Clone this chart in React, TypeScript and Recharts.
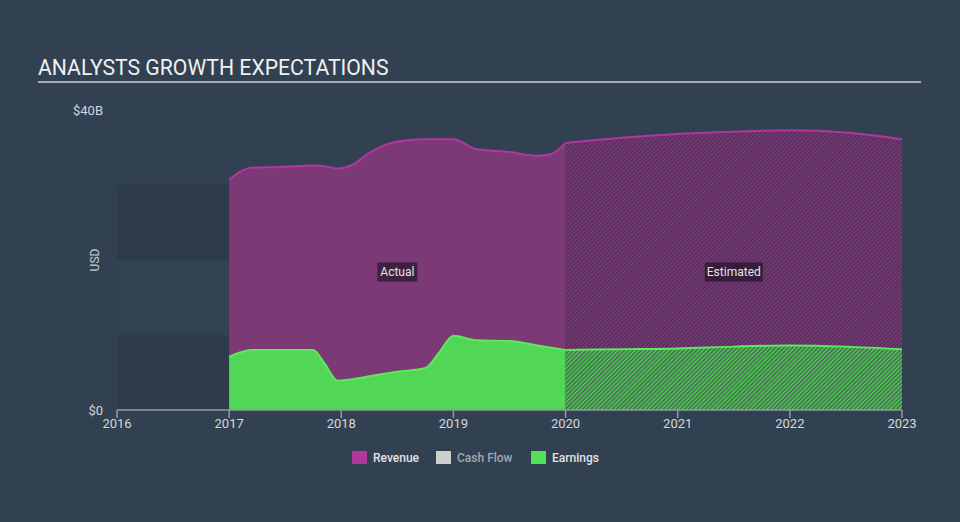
import React from 'react';
import { ComposedChart, Area, XAxis, YAxis, ReferenceArea, ReferenceDot } from 'recharts';

const actualDates = [2017.0, 2017.2, 2017.45, 2017.75, 2017.85, 2017.97, 2018.1, 2018.25, 2018.5, 2018.75, 2018.87, 2019.0, 2019.2, 2019.5, 2019.75, 2019.87, 2020.0];
const revenueActual = [30.7, 32.3, 32.4, 32.6, 32.5, 32.2, 32.7, 34.3, 35.8, 36.1, 36.1, 36.1, 34.8, 34.4, 33.9, 34.1, 35.6];
const earningsActual = [7.1, 8.0, 8.0, 8.0, 6.2, 3.9, 4.1, 4.5, 5.1, 5.6, 7.6, 9.9, 9.3, 9.2, 8.6, 8.3, 8.0];

const estimateDates = [2020.0, 2020.5, 2021.0, 2021.5, 2022.0, 2022.5, 2023.0];
const revenueEstimate = [35.6, 36.3, 36.8, 37.1, 37.3, 37.0, 36.1];
const earningsEstimate = [8.0, 8.1, 8.2, 8.45, 8.6, 8.45, 8.1];

const yearTicks = [2016, 2017, 2018, 2019, 2020, 2021, 2022, 2023];
const valueTicks = [0, 40];
const noDataBands = [
  { from: 0, to: 10, fill: '#2e3b4a' },
  { from: 10, to: 20, fill: '#324253' },
  { from: 20, to: 30, fill: '#2e3b4a' },
];

type Row = { x: number; revA?: number; earnA?: number; revE?: number; earnE?: number };

const buildRows = (): Row[] => {
  const map = new Map<number, Row>();
  actualDates.forEach((d, i) => {
    const r = map.get(d) || { x: d };
    r.revA = revenueActual[i];
    r.earnA = earningsActual[i];
    map.set(d, r);
  });
  estimateDates.forEach((d, i) => {
    const r = map.get(d) || { x: d };
    r.revE = revenueEstimate[i];
    r.earnE = earningsEstimate[i];
    map.set(d, r);
  });
  return Array.from(map.values()).sort((a, b) => a.x - b.x);
};

const rows = buildRows();

const BG = '#324152';
const FONT = 'Roboto, "Noto Sans", sans-serif';

const makeLabel = (text: string, w: number) => (props: any) => {
  const { cx, cy } = props;
  return (
    <g>
      <rect x={cx - w / 2} y={cy - 9.5} width={w} height={19} fill="rgba(22,18,30,0.62)" />
      <text x={cx} y={cy} textAnchor="middle" dominantBaseline="central" fill="#e4e4e8" fontSize={12} fontFamily={FONT}>
        {text}
      </text>
    </g>
  );
};

const legendItems = [
  { name: 'Revenue', color: '#b0379e', text: '#e2e2e2', sq: 352, tx: 373 },
  { name: 'Cash Flow', color: '#cfcfcf', text: '#a3a8ae', sq: 436, tx: 457 },
  { name: 'Earnings', color: '#53e055', text: '#e2e2e2', sq: 531, tx: 552 },
];

export default function App() {
  return (
    <div style={{ position: 'absolute', left: 0, top: 0, width: 960, height: 522, background: BG, fontFamily: FONT, overflow: 'hidden' }}>
      <div style={{ position: 'absolute', left: 38, top: 55, fontSize: 21.2, color: '#eef0f2', letterSpacing: 0, whiteSpace: 'nowrap' }}>
        ANALYSTS GROWTH EXPECTATIONS
      </div>
      <div style={{ position: 'absolute', left: 38, top: 81, width: 883, height: 2, background: '#a3abb3' }} />
      <div style={{ position: 'absolute', left: 78, top: 252, width: 34, height: 16, transform: 'rotate(-90deg)', color: '#c9ced4', fontSize: 12, textAlign: 'center', lineHeight: '16px' }}>
        USD
      </div>
      <ComposedChart width={960} height={522} data={rows} margin={{ top: 110, right: 58, bottom: 82, left: 0 }}>
        <defs>
          <pattern id="hatchPurple" width="3" height="3" patternUnits="userSpaceOnUse" patternTransform="rotate(45)">
            <rect width="3" height="3" fill="#522c5a" />
            <line x1="0.75" y1="0" x2="0.75" y2="3" stroke="#7c3b77" strokeWidth="1.5" />
          </pattern>
          <pattern id="hatchGreen" width="3" height="3" patternUnits="userSpaceOnUse" patternTransform="rotate(45)">
            <rect width="3" height="3" fill="#3e674b" />
            <line x1="0.75" y1="0" x2="0.75" y2="3" stroke="#56cc5a" strokeWidth="1.5" />
          </pattern>
        </defs>
        <XAxis
          type="number"
          dataKey="x"
          domain={[2016, 2023]}
          ticks={yearTicks}
          allowDataOverflow
          height={30}
          axisLine={{ stroke: '#8e9aa6', strokeWidth: 1.5 }}
          tickLine={{ stroke: '#8e9aa6', strokeWidth: 1.5 }}
          tickSize={8}
          tickMargin={1}
          tick={{ fill: '#d3d7db', fontSize: 13, fontFamily: FONT }}
          tickFormatter={(v: number) => String(v)}
        />
        <YAxis
          type="number"
          domain={[0, 40]}
          ticks={valueTicks}
          width={117}
          axisLine={false}
          tickLine={false}
          tickSize={0}
          tickMargin={14}
          tick={{ fill: '#d3d7db', fontSize: 13, fontFamily: FONT }}
          tickFormatter={(v: number) => (v === 0 ? '$0' : `$${v}B`)}
        />
        {noDataBands.map((b) => (
          <ReferenceArea key={b.from} x1={2016} x2={2017} y1={b.from} y2={b.to} fill={b.fill} fillOpacity={1} stroke="none" />
        ))}
        <Area type="monotone" dataKey="revA" stroke="#b0379e" strokeWidth={2} fill="#7b3a75" fillOpacity={1} isAnimationActive={false} connectNulls={false} dot={false} activeDot={false} />
        <Area type="monotone" dataKey="revE" stroke="#b0379e" strokeWidth={2} fill="url(#hatchPurple)" fillOpacity={1} isAnimationActive={false} connectNulls={false} dot={false} activeDot={false} />
        <Area type="monotone" dataKey="earnA" stroke="#5ee85e" strokeWidth={2} fill="#52d655" fillOpacity={1} isAnimationActive={false} connectNulls={false} dot={false} activeDot={false} />
        <Area type="monotone" dataKey="earnE" stroke="#5ee85e" strokeWidth={2} fill="url(#hatchGreen)" fillOpacity={1} isAnimationActive={false} connectNulls={false} dot={false} activeDot={false} />
        <ReferenceDot x={2018.5} y={18.4} r={0} shape={makeLabel('Actual', 40)} />
        <ReferenceDot x={2021.5} y={18.4} r={0} shape={makeLabel('Estimated', 58)} />
      </ComposedChart>
      {legendItems.map((it) => (
        <React.Fragment key={it.name}>
          <div style={{ position: 'absolute', left: it.sq, top: 451, width: 15, height: 13, background: it.color }} />
          <div style={{ position: 'absolute', left: it.tx, top: 450, fontSize: 12, fontWeight: 500, color: it.text, lineHeight: '16px', whiteSpace: 'nowrap' }}>
            {it.name}
          </div>
        </React.Fragment>
      ))}
    </div>
  );
}
